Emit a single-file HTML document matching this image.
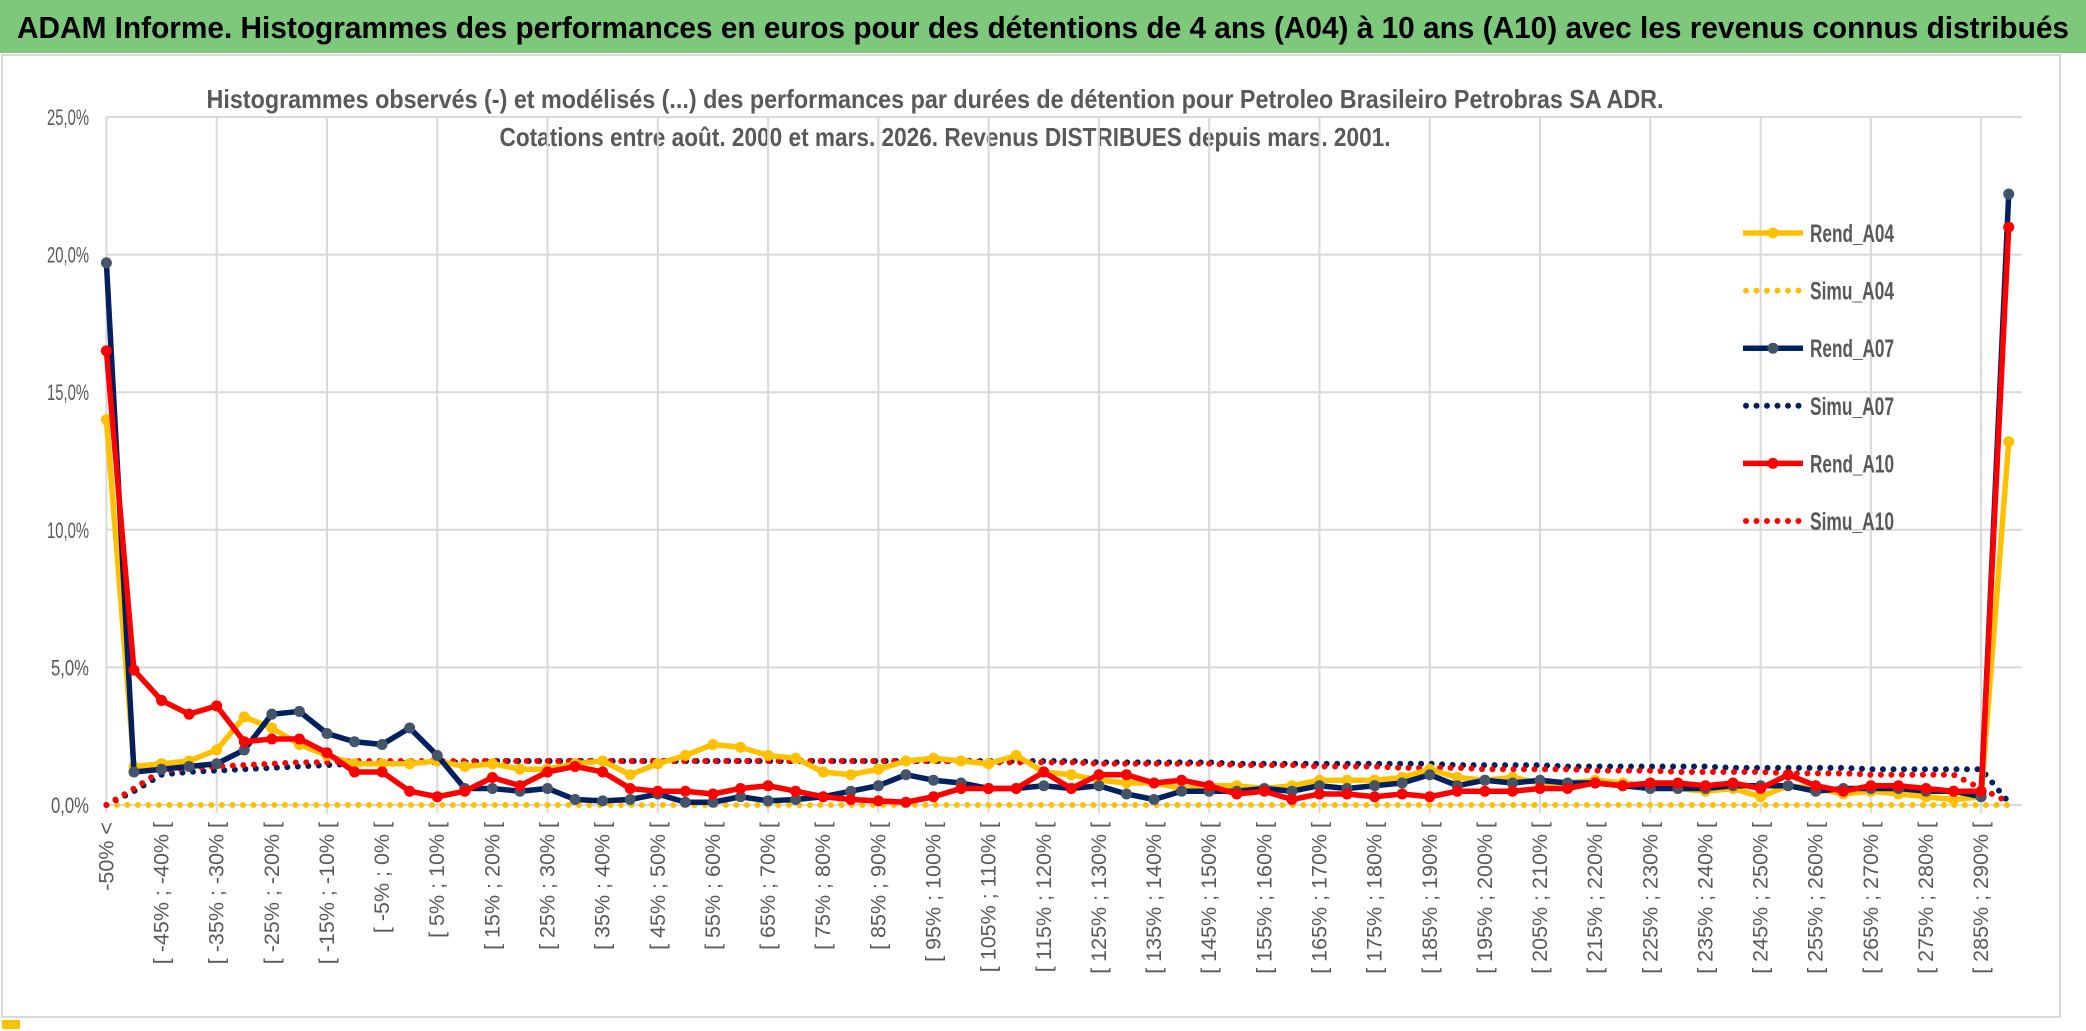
<!DOCTYPE html>
<html><head><meta charset="utf-8"><style>
body{margin:0;background:#fff;width:2086px;height:1031px;overflow:hidden;font-family:"Liberation Sans",sans-serif}
</style></head><body>
<svg id="chart" width="2086" height="1031" style="position:absolute;left:0;top:0">
<rect x="0" y="0" width="2086" height="53" fill="#7dc87a"/>
<text x="1043" y="38" text-anchor="middle" font-size="31" font-weight="bold" fill="#000" textLength="2052" lengthAdjust="spacingAndGlyphs">ADAM Informe. Histogrammes des performances en euros pour des détentions de 4 ans (A04) à 10 ans (A10) avec les revenus connus distribués</text>
<rect x="2" y="55" width="2058" height="962" fill="none" stroke="#d9d9d9" stroke-width="2"/>
<rect x="2" y="1020" width="18" height="9" fill="#ffc000"/>
<text x="935" y="108" text-anchor="middle" font-size="26" font-weight="bold" fill="#595959" textLength="1457" lengthAdjust="spacingAndGlyphs">Histogrammes observés (-) et modélisés (...) des performances par durées de détention pour Petroleo Brasileiro Petrobras SA ADR.</text>
<text x="945" y="146" text-anchor="middle" font-size="26" font-weight="bold" fill="#595959" textLength="891" lengthAdjust="spacingAndGlyphs">Cotations entre août. 2000 et mars. 2026. Revenus DISTRIBUES depuis mars. 2001.</text>
<g id="grid"></g><g id="ylab"></g><g id="xlab"></g><g id="series"></g><g id="legend"></g>
</svg>
<script>
const categories=["-50% <"];
for(let k=1;k<70;k++){const a=-50+5*(k-1);categories.push("[ "+a+"% ; "+(a+5)+"% [");}
const yTicks=[0,5,10,15,20,25];
const yTickLabels=["0,0%","5,0%","10,0%","15,0%","20,0%","25,0%"];
const rendA04=[14.0,1.4,1.5,1.6,2.0,3.2,2.8,2.2,1.8,1.5,1.5,1.5,1.6,1.4,1.5,1.3,1.3,1.5,1.6,1.1,1.5,1.8,2.2,2.1,1.8,1.7,1.2,1.1,1.3,1.6,1.7,1.6,1.5,1.8,1.2,1.1,0.9,0.8,0.8,0.6,0.7,0.7,0.6,0.7,0.9,0.9,0.9,1.0,1.3,1.0,0.9,1.0,0.8,0.8,0.9,0.8,0.7,0.6,0.5,0.6,0.3,0.7,0.6,0.4,0.5,0.4,0.3,0.2,0.3,13.2];
const simuA04=Array(70).fill(0);
const rendA07=[19.7,1.2,1.3,1.4,1.5,2.0,3.3,3.4,2.6,2.3,2.2,2.8,1.8,0.6,0.6,0.5,0.6,0.2,0.15,0.2,0.4,0.1,0.1,0.3,0.15,0.2,0.3,0.5,0.7,1.1,0.9,0.8,0.6,0.6,0.7,0.6,0.7,0.4,0.2,0.5,0.5,0.5,0.6,0.5,0.7,0.6,0.7,0.8,1.1,0.7,0.9,0.8,0.9,0.8,0.8,0.7,0.6,0.6,0.6,0.7,0.7,0.7,0.5,0.6,0.6,0.6,0.5,0.5,0.3,22.2];
const simuA07=[0,0.5,1.1,1.2,1.25,1.3,1.35,1.4,1.45,1.5,1.5,1.55,1.55,1.55,1.6,1.6,1.6,1.6,1.6,1.6,1.6,1.6,1.6,1.6,1.6,1.6,1.6,1.6,1.6,1.6,1.6,1.6,1.6,1.6,1.6,1.6,1.55,1.55,1.55,1.55,1.55,1.5,1.5,1.5,1.5,1.5,1.5,1.5,1.5,1.45,1.45,1.45,1.45,1.4,1.4,1.4,1.4,1.4,1.4,1.35,1.35,1.35,1.35,1.35,1.3,1.3,1.3,1.3,1.3,0.1];
const simuA10=[0,0.6,1.25,1.35,1.4,1.45,1.5,1.55,1.55,1.6,1.6,1.6,1.6,1.6,1.6,1.6,1.6,1.6,1.6,1.6,1.6,1.6,1.6,1.6,1.6,1.6,1.6,1.6,1.6,1.6,1.6,1.6,1.55,1.55,1.55,1.55,1.5,1.5,1.5,1.5,1.5,1.45,1.45,1.45,1.4,1.4,1.4,1.35,1.35,1.35,1.3,1.3,1.3,1.3,1.25,1.25,1.25,1.2,1.2,1.2,1.2,1.15,1.15,1.15,1.1,1.1,1.1,1.1,0.6,0.1];
const rendA10=[16.5,4.9,3.8,3.3,3.6,2.3,2.4,2.4,1.9,1.2,1.2,0.5,0.3,0.5,1.0,0.7,1.2,1.4,1.2,0.6,0.5,0.5,0.4,0.6,0.7,0.5,0.3,0.2,0.15,0.1,0.3,0.6,0.6,0.6,1.2,0.6,1.1,1.1,0.8,0.9,0.7,0.4,0.5,0.2,0.4,0.4,0.3,0.4,0.3,0.5,0.5,0.5,0.6,0.6,0.8,0.7,0.8,0.8,0.7,0.8,0.6,1.1,0.7,0.5,0.7,0.7,0.6,0.5,0.5,21.0];
const NS="http://www.w3.org/2000/svg";
const X0=106.4,DX=27.57,Y0=805,PY=27.52;
const xs=i=>X0+i*DX, ys=v=>Y0-v*PY;
function mk(t,a,p){const e=document.createElementNS(NS,t);for(const k in a)e.setAttribute(k,a[k]);p.appendChild(e);return e;}
const grid=document.getElementById('grid');
yTicks.forEach((t,i)=>{
 const l=mk('line',{x1:X0,x2:2022,y1:ys(t),y2:ys(t),stroke:'#d9d9d9','stroke-width':2},grid);
 
 
 const s=yTickLabels[i];
 const tx=mk('text',{x:89,y:ys(t)+8,'text-anchor':'end','font-size':22,fill:'#595959',textLength:s.length>4?42:38,lengthAdjust:'spacingAndGlyphs'},document.getElementById('ylab'));
 tx.textContent=s;
 
 
});
for(let i=0;i<=72;i+=4){const x=X0+i*DX;if(x>2030)break;
 const l=mk('line',{x1:x,x2:x,y1:ys(25),y2:Y0+8,stroke:'#d9d9d9','stroke-width':2},grid);
 
 }
categories.forEach((c,i)=>{if(i%2)return;
 const tx=mk('text',{transform:`translate(${xs(i)+7},822) rotate(-90)`,'text-anchor':'end','font-size':21.5,fill:'#595959'},document.getElementById('xlab'));
 tx.textContent=c;
 
 
});
const S=document.getElementById('series');
function dotted(arr,color,name){
 const p=mk('polyline',{points:arr.map((v,i)=>xs(i)+','+ys(v)).join(' '),fill:'none',stroke:color,'stroke-width':6,'stroke-linecap':'round','stroke-dasharray':'0 10.5'},S);
 
 
}
function solid(arr,color,mcol,name){
 const g=mk('g',{},S);
 
 
 mk('polyline',{points:arr.map((v,i)=>xs(i)+','+ys(v)).join(' '),fill:'none',stroke:color,'stroke-width':5.5,'stroke-linejoin':'round'},g);
 arr.forEach((v,i)=>{const c=mk('circle',{cx:xs(i),cy:ys(v),r:5.5,fill:mcol},g);
  
  });
}
dotted(simuA04,'#ffc000','simu-a04-line');
dotted(simuA07,'#002060','simu-a07-line');
dotted(simuA10,'#ff0000','simu-a10-line');
solid(rendA04,'#ffc000','#ffc000','rend-a04-line');
solid(rendA07,'#002060','#44546a','rend-a07-line');
solid(rendA10,'#ff0000','#ff0000','rend-a10-line');
const L=document.getElementById('legend');
const leg=[["Rend_A04","#ffc000",0],["Simu_A04","#ffc000",1],["Rend_A07","#002060",0],["Simu_A07","#002060",1],["Rend_A10","#ff0000",0],["Simu_A10","#ff0000",1]];
leg.forEach((e,i)=>{const y=233+i*57.6;
 const g=mk('g',{},L);
 
 
 if(e[2]) mk('line',{x1:1746,x2:1800,y1:y,y2:y,stroke:e[1],'stroke-width':6,'stroke-linecap':'round','stroke-dasharray':'0 10.5'},g);
 else {mk('line',{x1:1743,x2:1803,y1:y,y2:y,stroke:e[1],'stroke-width':5.5},g);mk('circle',{cx:1773,cy:y,r:5.5,fill:e[1]==='#002060'?'#44546a':e[1]},g);}
 const t=mk('text',{x:1810,y:y+9,'font-size':25,'font-weight':'bold',fill:'#595959',textLength:84,lengthAdjust:'spacingAndGlyphs'},g);
 t.textContent=e[0];
});
</script>
</body></html>
